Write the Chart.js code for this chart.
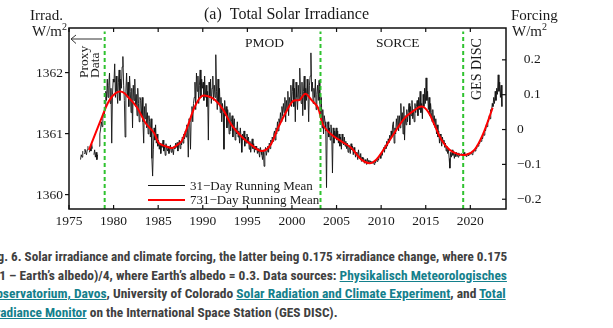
<!DOCTYPE html>
<html><head><meta charset="utf-8">
<script src="https://cdn.jsdelivr.net/npm/chart.js@4.4.1/dist/chart.umd.min.js"></script>
<style>
html,body{margin:0;padding:0;background:#fff;width:613px;height:328px;overflow:hidden;position:relative}
#wrap{position:absolute;left:0;top:0;width:613px;height:232px}
#cap{position:absolute;left:-12px;top:248px;font-family:"Liberation Sans Narrow","Arial Narrow","Roboto Condensed","Liberation Sans",Arial,sans-serif;font-size:13px;font-weight:bold;color:#404040;line-height:18.7px;white-space:nowrap}
#cap .ln{display:block;width:max-content;transform-origin:0 0}
#cap a{color:#14808c;text-decoration:underline}
</style></head>
<body>
<div id="wrap"><canvas id="c" width="613" height="232"></canvas></div>
<div id="cap">
<div class="ln" data-w="519" data-x="0">Fig. 6. Solar irradiance and climate forcing, the latter being 0.175 ×irradiance change, where 0.175</div>
<div class="ln" data-w="522" data-x="-3">= (1 – Earth’s albedo)/4, where Earth’s albedo = 0.3. Data sources: <a>Physikalisch Meteorologisches</a></div>
<div class="ln" data-w="518" data-x="0"><a>Observatorium, Davos</a>, University of Colorado <a>Solar Radiation and Climate Experiment</a>, and <a>Total</a></div>
<div class="ln" data-w="0" data-x="0"><a>Irradiance Monitor</a> on the International Space Station (GES DISC).</div>
</div>
<script>
// ---- data (W/m^2) ----
const xTickYears = [1975,1980,1985,1990,1995,2000,2005,2010,2015,2020];
const irradTicks = [1360,1361,1362];
const forcingTicks = [-0.2,-0.1,0,0.1,0.2];
const dividerYears = [1979.0,2003.2,2019.2];
const forcingFactor = 0.175;
const forcingRefIrrad = 1361.073;
const irradMin = 1359.77, irradMax = 1362.738;
const dividerTop = 1362.68;
const yearMin = 1975, yearMax = 2024;

// 31-day running mean, monthly samples starting Jan 1976
const tsi31DayStart = 1976;
const tsi31Day = [
 null,null,null,1360.58,1360.66,1360.62,1360.72,null,1360.68,1360.75,1360.70,1360.66,
 1360.74,1360.80,null,1360.70,1360.78,1360.72,1360.84,1360.76,null,1360.66,1360.74,1360.62,
 1360.70,1360.58,1360.66,null,1360.80,1361.00,1361.08,1361.20,1361.12,1361.25,1361.35,1361.30,
 1361.45,1361.70,1361.55,1361.90,1361.60,1361.80,1362.00,1361.50,1361.75,1360.85,1361.65,1361.90,
 1361.85,1362.15,1361.60,1361.95,1361.70,1361.50,1361.85,1362.05,1361.55,1361.90,1361.75,1362.10,
 1362.27,1361.80,1361.55,1360.95,1361.70,1362.00,1361.60,1361.85,1361.45,1361.95,1361.70,1361.35,
 1361.75,1361.10,1361.80,1361.55,1361.90,1361.45,1361.65,1361.30,1361.75,1361.50,1361.20,1361.60,
 1361.55,1361.30,1361.60,1361.20,1360.85,1361.45,1361.25,1361.50,1361.10,1361.35,1361.00,1361.30,
 1361.20,1360.95,1361.25,1360.60,1360.31,1360.75,1361.10,1360.90,1361.15,1360.85,1361.00,1360.80,
 1360.90,1360.75,1360.85,1360.68,1360.82,1360.78,1360.90,1360.72,1360.80,1360.65,1360.84,1360.76,
 1360.72,1360.80,1360.68,1360.75,1360.82,1360.70,1360.78,1360.74,1360.66,1360.80,1360.76,1360.85,
 1360.78,1360.86,1360.72,1360.84,1360.90,1360.76,1360.88,1360.82,1360.95,1360.85,1361.00,1360.92,
 1361.05,1360.95,1361.15,1361.10,1360.62,1361.25,1361.20,1360.75,1361.30,1361.45,1361.20,1361.50,
 1361.60,1361.85,1361.40,1362.00,1361.70,1361.95,1361.50,1361.80,1362.05,1361.60,1361.90,1361.75,
 1361.85,1361.55,1361.95,1361.60,1361.80,1361.45,1361.70,1360.90,1361.85,1361.60,1361.90,1361.50,
 1361.75,1361.95,1361.55,1361.80,1361.60,1362.30,1361.70,1361.40,1361.90,1361.50,1361.75,1361.35,
 1361.60,1361.20,1361.50,1361.35,1360.75,1361.55,1361.30,1361.45,1361.10,1361.40,1361.25,1361.00,
 1361.35,1361.05,1361.20,1361.30,1360.95,1361.15,1361.25,1360.90,1361.10,1361.00,1361.20,1360.95,
 1361.05,1360.85,1361.10,1360.95,1360.70,1361.00,1360.90,1361.05,1360.80,1360.95,1360.85,1361.00,
 1360.85,1360.95,1360.75,1360.88,1360.70,1360.82,1360.92,1360.76,1360.84,1360.70,1360.80,1360.74,
 1360.80,1360.68,1360.76,1360.70,1360.62,1360.78,1360.72,1360.66,1360.58,1360.74,1360.47,1360.70,
 1360.78,1360.65,1360.72,1360.80,1360.70,1360.85,1360.76,1360.90,1360.82,1360.95,1360.88,1361.00,
 1361.05,1360.90,1361.10,1361.00,1361.20,1361.05,1361.25,1361.15,1361.35,1361.20,1361.45,1361.30,
 1361.50,1361.35,1361.60,1361.20,1361.55,1361.40,1361.70,1361.30,1361.60,1361.50,1361.80,1361.45,
 1361.70,1361.90,1361.45,1361.75,1361.20,1361.85,1361.60,1361.40,1361.80,1361.55,1362.08,1361.65,
 1361.50,1361.85,1361.30,1361.70,1361.95,1361.40,1361.75,1361.55,1361.90,1361.65,1361.20,1361.80,
 1361.95,1362.33,1361.70,1361.85,1361.50,1361.75,1361.60,1361.90,1361.40,1361.65,1361.80,1361.55,
 1361.88,1361.50,1361.25,1361.60,1361.10,1361.40,1361.00,1361.30,1361.20,1361.05,1360.12,1361.15,
 1361.20,1360.95,1361.10,1360.90,1361.15,1361.00,1360.36,1361.10,1360.85,1361.05,1360.95,1361.10,
 1360.90,1361.05,1360.85,1361.00,1360.80,1360.95,1360.75,1361.00,1360.88,1360.82,1360.95,1360.80,
 1360.88,1360.76,1360.85,1360.70,1360.82,1360.78,1360.68,1360.84,1360.74,1360.80,1360.66,1360.78,
 1360.72,1360.62,1360.70,1360.66,1360.58,1360.74,1360.64,1360.60,1360.68,1360.55,1360.62,1360.58,
 1360.60,1360.52,1360.58,1360.55,1360.50,1360.60,1360.54,1360.57,1360.51,1360.56,1360.53,1360.55,
 1360.52,1360.55,1360.50,1360.56,1360.53,1360.58,1360.55,1360.60,1360.57,1360.63,1360.66,1360.60,
 1360.70,1360.65,1360.74,1360.78,1360.70,1360.82,1360.76,1360.88,1360.80,1360.92,1360.86,1360.98,
 1360.90,1361.05,1360.95,1361.15,1361.20,1360.85,1361.10,1361.00,1361.25,1361.10,1361.30,1361.05,
 1361.30,1361.10,1361.50,1361.20,1361.35,1361.00,1361.45,1360.90,1361.30,1361.15,1361.40,1361.20,
 1361.35,1361.50,1361.15,1361.45,1361.30,1361.55,1361.25,1361.40,1361.20,1361.50,1361.35,1361.45,
 1361.55,1361.30,1361.60,1361.40,1361.70,1361.35,1361.50,1361.25,1361.65,1361.45,1361.75,1361.50,
 1361.92,1361.55,1361.70,1361.40,1361.60,1361.30,1361.50,1361.35,1361.20,1361.40,1361.15,1361.30,
 1361.10,1361.25,1361.00,1361.15,1360.95,1361.05,1360.85,1361.00,1360.90,1360.80,1360.95,1360.85,
 1360.90,1360.78,1360.85,1360.72,1360.80,1360.68,1360.75,1360.60,1360.44,1360.70,1360.62,1360.74,
 1360.65,1360.72,1360.60,1360.68,1360.63,1360.70,1360.66,1360.62,1360.69,1360.64,1360.67,1360.66,
 1360.68,1360.64,1360.66,1360.70,1360.65,1360.67,1360.63,1360.66,1360.68,1360.64,1360.66,1360.69,
 1360.67,1360.70,1360.66,1360.72,1360.70,1360.75,1360.72,1360.78,1360.76,1360.82,1360.80,1360.86,
 1360.84,1360.90,1360.88,1360.95,1360.92,1361.00,1360.98,1361.08,1361.05,1361.15,1361.12,1361.22,
 1361.20,1361.30,1361.25,1361.40,1361.35,1361.50,1361.45,1361.60,1361.50,1361.70,1361.55,1361.75,
 1361.65,1361.97,1361.70,1361.85,1361.60,1361.80,1361.45
];

// 731-day running mean
const tsi731Years = [1977.24,1978.73,1979.48,1980.23,1980.97,1981.72,1982.65,1983.58,1984.52,1985.08,1985.82,1986.57,1987.13,1987.62,1988.36,1989.11,1989.86,1990.6,1991.35,1992.28,1993.22,1994.34,1995.46,1996.58,1997.5,1998.44,1999.19,2000.12,2000.87,2001.5,2002.18,2002.92,2003.48,2004.42,2005.54,2006.66,2007.78,2008.7,2009.45,2010.39,2011.5,2012.63,2013.56,2014.5,2015.24,2015.98,2016.74,2017.67,2018.6,2019.53,2020.46,2021.4,2022.5];
const tsi731Day = [1360.74,1361.29,1361.54,1361.67,1361.69,1361.59,1361.43,1361.18,1361.02,1360.85,1360.80,1360.77,1360.82,1360.88,1361.15,1361.45,1361.62,1361.62,1361.56,1361.40,1361.15,1360.96,1360.82,1360.72,1360.80,1361.10,1361.32,1361.54,1361.56,1361.66,1361.56,1361.43,1361.15,1360.99,1360.88,1360.77,1360.58,1360.52,1360.58,1360.77,1361.02,1361.26,1361.37,1361.45,1361.37,1361.15,1360.91,1360.74,1360.67,1360.66,1360.74,1360.99,1361.43];

const seriesNames = ['31\u2212Day Running Mean','731\u2212Day Running Mean'];

// ---- build ----
const blackPts = tsi31Day.map((v,i)=>({x: tsi31DayStart + (i+0.5)/12, y: v}));
const redPts = tsi731Day.map((v,i)=>({x: tsi731Years[i], y: v}));
const dividerSets = dividerYears.map(yr=>({
  data:[{x:yr,y:irradMin},{x:yr,y:dividerTop}], borderColor:'#2fc22f', borderWidth:2,
  borderDash:[4,3], pointRadius:0, order:0, yAxisID:'y'
}));

const SERIF = '"Liberation Serif","Times New Roman",serif';
const TXT = '#1a1a1a';

function line(ctx,x1,y1,x2,y2){ctx.beginPath();ctx.moveTo(x1,y1);ctx.lineTo(x2,y2);ctx.stroke();}

const deco = {
  id:'deco',
  afterDatasetsDraw(chart){
    const {ctx, chartArea:a, scales} = chart;
    const x = scales.x, y2 = scales.y2;
    ctx.save();
    ctx.strokeStyle = '#111'; ctx.lineWidth = 1.5;
    ctx.strokeRect(a.left, a.top, a.right-a.left, a.bottom-a.top);
    ctx.lineWidth = 1.2;
    xTickYears.forEach(v=>{
      const px = x.getPixelForValue(v);
      line(ctx,px,a.top,px,a.top+4);
      line(ctx,px,a.bottom,px,a.bottom-4);
    });
    forcingTicks.forEach(v=>{
      const py = y2.getPixelForValue(v);
      line(ctx,a.right-4,py,a.right,py);
    });
    ctx.restore();
  },
  afterDraw(chart){
    const ctx = chart.ctx;
    ctx.save();
    ctx.fillStyle = TXT; ctx.textBaseline = 'alphabetic'; ctx.textAlign = 'left';
    ctx.font = '16px '+SERIF;
    ctx.fillText('(a)  Total Solar Irradiance', 204, 19);
    ctx.font = '15px '+SERIF;
    ctx.fillText('Irrad.', 30, 20);
    ctx.fillText('W/m', 32, 36);
    ctx.fillText('Forcing', 511, 20);
    ctx.fillText('W/m', 512, 36);
    ctx.font = '10px '+SERIF;
    ctx.fillText('2', 62, 30);
    ctx.fillText('2', 542, 30);
    ctx.font = '13.5px '+SERIF;
    ctx.fillText('PMOD', 245, 47);
    ctx.fillText('SORCE', 376, 47);
    const rot = (t,x,y)=>{ctx.save();ctx.translate(x,y);ctx.rotate(-Math.PI/2);ctx.fillText(t,0,0);ctx.restore();};
    rot('Proxy', 87.5, 78);
    rot('Data', 99, 78);
    ctx.font = '14px '+SERIF;
    rot('GES DISC', 481, 100);
    ctx.strokeStyle = '#333'; ctx.lineWidth = 1;
    line(ctx,71,39,102,39);
    line(ctx,71,39,76,35);
    line(ctx,71,39,76,43.5);
    ctx.font = '13px '+SERIF;
    ctx.strokeStyle = '#111'; ctx.lineWidth = 1.2;
    line(ctx,148,185.5,185,185.5);
    ctx.fillText(seriesNames[0], 190, 190);
    ctx.strokeStyle = '#ff0000'; ctx.lineWidth = 2;
    line(ctx,148,200,185,200);
    ctx.fillText(seriesNames[1], 190, 204);
    ctx.restore();
  }
};

new Chart(document.getElementById('c'), {
  type:'line',
  data:{datasets:[
    ...dividerSets,
    {label:seriesNames[1], data:redPts, borderColor:'#ff0000', borderWidth:2, pointRadius:0, tension:0.35, order:1, yAxisID:'y'},
    {label:seriesNames[0], data:blackPts, borderColor:'rgba(20,20,20,0.9)', borderWidth:1, pointRadius:0, tension:0, spanGaps:false, order:2, yAxisID:'y'}
  ]},
  options:{
    responsive:false, animation:false, events:[],
    layout:{padding:{top:28,left:0,right:0,bottom:0}},
    plugins:{legend:{display:false}, tooltip:{enabled:false}, title:{display:false}},
    scales:{
      x:{type:'linear', min:yearMin, max:yearMax,
        afterBuildTicks:s=>{s.ticks = xTickYears.map(v=>({value:v}));},
        ticks:{callback:v=>String(v), font:{family:SERIF,size:13.5}, color:TXT, padding:-4, maxRotation:0, autoSkip:false},
        grid:{display:false}, border:{display:false},
        afterFit:s=>{s.height = 23;}},
      y:{type:'linear', position:'left', min:irradMin, max:irradMax,
        afterBuildTicks:s=>{s.ticks = irradTicks.map(v=>({value:v}));},
        ticks:{callback:v=>String(v), font:{family:SERIF,size:13.5}, color:TXT, padding:2},
        grid:{display:true, drawOnChartArea:false, drawTicks:true, tickLength:4, color:'#111', lineWidth:1.2},
        border:{display:false},
        afterFit:s=>{s.width = 69;}},
      y2:{type:'linear', position:'right',
        min:forcingFactor*(irradMin-forcingRefIrrad), max:forcingFactor*(irradMax-forcingRefIrrad),
        afterBuildTicks:s=>{s.ticks = forcingTicks.map(v=>({value:v}));},
        ticks:{callback:v=> v<0 ? '\u2212'+String(Math.abs(v)) : (v===0?'0':'\u2007'+String(v)),
          font:{family:SERIF,size:13.5}, color:TXT, padding:3},
        grid:{display:false}, border:{display:false},
        afterFit:s=>{s.width = 107;}}
    }
  },
  plugins:[deco]
});

(function(){
  const lines = document.querySelectorAll('#cap .ln');
  let scales = [];
  lines.forEach(l=>{
    const w = +l.dataset.w, dx = +l.dataset.x;
    if (w>0){ const s = w / l.offsetWidth; scales.push(s); l.style.transform = 'translateX('+dx+'px) scaleX('+s+')'; }
  });
  const avg = scales.reduce((a,b)=>a+b,0)/scales.length;
  lines.forEach(l=>{ if(+l.dataset.w===0) l.style.transform='scaleX('+avg+')'; });
})();
</script>
</body></html>
